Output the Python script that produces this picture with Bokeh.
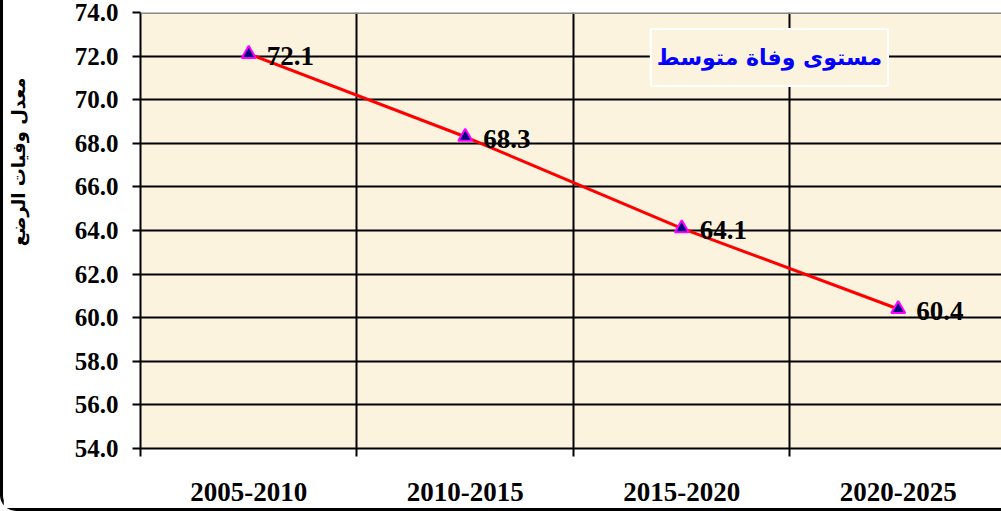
from bokeh.plotting import figure
from bokeh.models import FixedTicker, NumeralTickFormatter, Label, Span, ColumnDataSource, Title
from bokeh.core.properties import value
from bokeh.embed import file_html
from bokeh.resources import INLINE

# ---- data ----
periods = ["2005-2010", "2010-2015", "2015-2020", "2020-2025"]
rates = [72.1, 68.3, 64.1, 60.4]
rate_labels = ["72.1", "68.3", "64.1", "60.4"]
y_ticks = [54, 56, 58, 60, 62, 64, 66, 68, 70, 72, 74]
series_name = "مستوى وفاة متوسط"
y_title = "معدل وفيات الرضع"

xs = [i + 0.5 for i in range(len(periods))]
bounds = list(range(len(periods) + 1))
src = ColumnDataSource(dict(x=xs, y=rates, lab=rate_labels))

BG = "#FCF3DE"
SERIF = "Liberation Serif"

p = figure(frame_width=861, frame_height=436,
           x_range=(0, 3.977), y_range=(54, 74),
           output_backend="svg", toolbar_location=None,
           background_fill_color=BG, border_fill_color="white",
           min_border_left=137, min_border_top=12, min_border_bottom=60,
           min_border_right=0, outline_line_color=None)

# axes
p.xaxis.ticker = FixedTicker(ticks=xs, minor_ticks=bounds)
p.xaxis.major_label_overrides = {x: lab for x, lab in zip(xs, periods)}
p.xaxis.major_tick_out = 0
p.xaxis.major_tick_in = 0
p.xaxis.minor_tick_out = 8
p.xaxis.minor_tick_in = 0
p.xaxis.minor_tick_line_color = "black"
p.xaxis.minor_tick_line_width = 2
p.xaxis.axis_line_width = 2
p.xaxis.major_label_standoff = 26
p.xaxis.major_label_text_font = SERIF
p.xaxis.major_label_text_font_style = "bold"
p.xaxis.major_label_text_font_size = "27px"
p.xaxis.major_label_text_color = "black"

p.yaxis.ticker = FixedTicker(ticks=y_ticks)
p.yaxis.formatter = NumeralTickFormatter(format="0.0")
p.yaxis.major_tick_out = 8
p.yaxis.major_tick_in = 0
p.yaxis.major_tick_line_width = 2
p.yaxis.minor_tick_line_color = None
p.yaxis.axis_line_width = 2
p.yaxis.major_label_standoff = 14
p.yaxis.major_label_text_font = SERIF
p.yaxis.major_label_text_font_style = "bold"
p.yaxis.major_label_text_font_size = "25px"
p.yaxis.major_label_text_line_height = 0.9
p.yaxis.major_label_text_color = "black"
# blank axis label used only as spacing between tick labels and the title
p.yaxis.axis_label = " "
p.yaxis.axis_label_standoff = 29
p.yaxis.axis_label_text_font_size = "10px"

# grids
p.xgrid.grid_line_color = None
p.xgrid.minor_grid_line_color = "black"
p.xgrid.minor_grid_line_width = 2
p.ygrid.grid_line_color = "black"
p.ygrid.grid_line_width = 2

top = Span(location=74, dimension="width", line_color="#8a8a8a", line_width=3)
p.add_layout(top)

# series
p.line("x", "y", source=src, line_color="#FF0000", line_width=3)
p.scatter("x", "y", source=src, marker="triangle", size=14,
          fill_color="#000080", line_color="#FF00FF", line_width=2)
p.text("x", "y", text="lab", source=src, x_offset=18, y_offset=2,
       text_baseline="middle", text_align="left",
       text_font=value(SERIF), text_font_style="bold",
       text_font_size="27px", text_color="black")

# legend-like box
leg = Label(x=2.905, y=71.94, text=series_name, text_align="center",
            text_baseline="middle", text_font="DejaVu Sans",
            text_font_style="bold", text_font_size="22px", text_color="#0000FF",
            background_fill_color=BG, border_line_color="white",
            border_line_width=2, padding=(6, 16))
p.add_layout(leg)

# y title
yt = Title(text=y_title, align="right", offset=65, standoff=0,
           text_font="DejaVu Sans", text_font_style="bold",
           text_font_size="18px", text_color="black")
p.add_layout(yt, "left")

p.styles = {"border-bottom": "3px solid black", "border-left": "3px solid black",
            "border-bottom-left-radius": "16px"}

open("out.html", "w").write(file_html(p, INLINE))
